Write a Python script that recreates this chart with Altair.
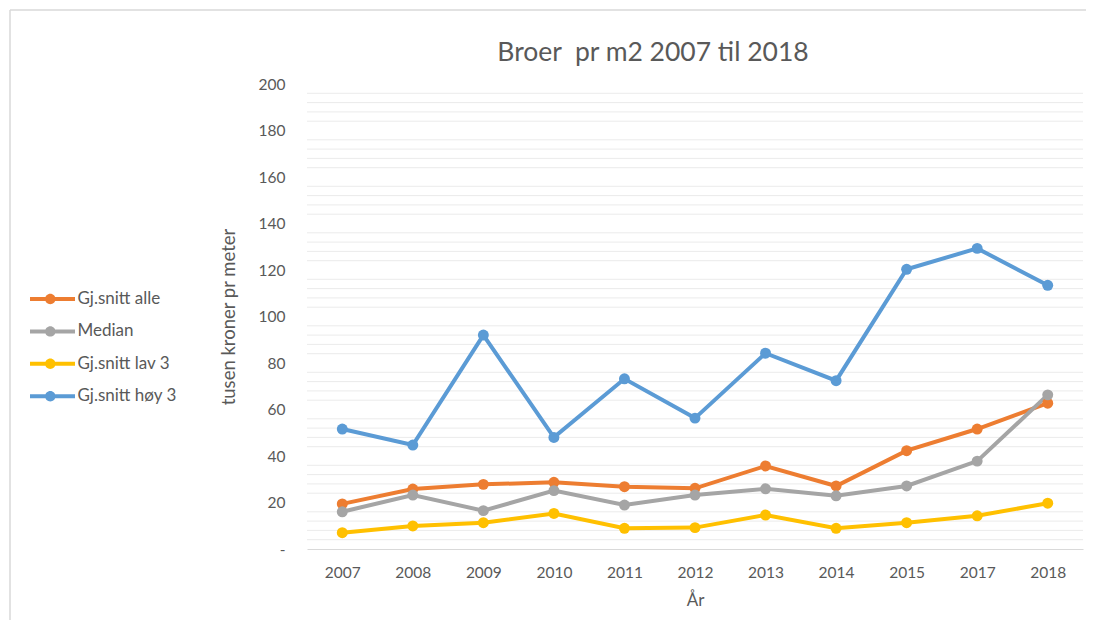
import altair as alt
import pandas as pd

years = ["2007", "2008", "2009", "2010", "2011", "2012", "2013", "2014", "2015", "2017", "2018"]
series_names = ["Gj.snitt alle", "Median", "Gj.snitt lav 3", "Gj.snitt høy 3"]
snitt_alle = [19.4, 25.8, 27.8, 28.7, 26.8, 26.1, 35.7, 27.1, 42.3, 51.6, 62.7]
median = [16.0, 23.2, 16.5, 25.1, 18.9, 23.2, 25.9, 22.9, 27.1, 37.8, 66.3]
snitt_lav3 = [7.0, 9.9, 11.3, 15.3, 8.9, 9.2, 14.6, 8.9, 11.3, 14.3, 19.7]
snitt_hoy3 = [51.6, 44.7, 92.0, 48.0, 73.2, 56.3, 84.2, 72.4, 120.3, 129.3, 113.4]
colors = ["#ED7D31", "#A5A5A5", "#FFC000", "#5B9BD5"]
y_ticks = list(range(0, 201, 20))
minor_grid = [v for v in range(4, 200, 4) if v % 20 != 0]
title_text = "Broer\u00a0 pr m2 2007 til 2018"

rows = []
for name, vals in zip(series_names, [snitt_alle, median, snitt_lav3, snitt_hoy3]):
    for yr, v in zip(years, vals):
        rows.append({"serie": name, "År": yr, "verdi": v})
df = pd.DataFrame(rows)

FONT = "Lato"
TXT = "#595959"
yscale = alt.Scale(domain=[0, 200], nice=False, zero=True)
xscale = alt.Scale(type="point", padding=0.5)
cscale = alt.Scale(domain=series_names, range=colors)

x_axis = alt.Axis(title="År", labelAngle=0, ticks=False, grid=False,
                  domainColor="#d9d9d9", domainWidth=1.2,
                  labelFont=FONT, labelFontSize=15.5, labelColor=TXT, labelPadding=16,
                  titleFont=FONT, titleFontSize=17, titleColor=TXT,
                  titleFontWeight="normal", titlePadding=12)
y_axis = alt.Axis(values=y_ticks, labelExpr="datum.value == 0 ? '-' : datum.label",
                  domain=False, ticks=False, grid=False,
                  labelFont=FONT, labelFontSize=15.5, labelColor=TXT, labelPadding=22,
                  title="tusen kroner pr meter", titleFont=FONT, titleFontSize=18.5,
                  titleColor=TXT, titleFontWeight="normal", titlePadding=20)

x_enc = alt.X("År:N", sort=years, scale=xscale, axis=x_axis)
y_enc = alt.Y("verdi:Q", scale=yscale, axis=y_axis)

legend_path = ("M-2.25,-0.2H2.25V0.2H-2.25Z "
               "M0.3,0A0.52,0.52 0 1,1 -0.74,0A0.52,0.52 0 1,1 0.3,0Z")
legend = alt.Legend(title=None, orient="none", legendX=-264.5, legendY=205,
                    symbolType=legend_path, symbolSize=400,
                    symbolStrokeWidth=0, labelOffset=15, rowPadding=14.4,
                    labelFont=FONT, labelFontSize=17, labelColor=TXT, padding=0)
c_enc = alt.Color("serie:N", sort=series_names, scale=cscale, legend=legend)

grid = alt.Chart(pd.DataFrame({"verdi": minor_grid})).mark_rule(
    color="#ebebeb", strokeWidth=1).encode(y=y_enc)

lines = alt.Chart(df).mark_line(strokeWidth=4).encode(x=x_enc, y=y_enc, color=c_enc)
points = alt.Chart(df).mark_circle(size=120, opacity=1).encode(x=x_enc, y=y_enc, color=c_enc)

title = alt.Chart(pd.DataFrame({"t": [title_text]})).mark_text(
    font=FONT, fontSize=26.5, color=TXT, align="center", baseline="middle").encode(
    text="t:N", x=alt.value(346), y=alt.value(-31))

frame_left = alt.Chart(pd.DataFrame({"a": [0]})).mark_rule(color="#d9d9d9", strokeWidth=1.5).encode(
    x=alt.value(-297), y=alt.value(-74), y2=alt.value(560))
frame_top = alt.Chart(pd.DataFrame({"a": [0]})).mark_rule(color="#d9d9d9", strokeWidth=1.5).encode(
    x=alt.value(-297), x2=alt.value(800), y=alt.value(-74))

chart = alt.layer(grid, lines, points, title, frame_left, frame_top).properties(
    width=776, height=465,
    padding={"left": 299, "top": 76, "right": 3, "bottom": 71},
    autosize=alt.AutoSizeParams(type="none"),
).configure(font=FONT).configure_view(stroke=None, strokeWidth=0)

chart.save("out.html", embed_options={"renderer": "svg", "actions": False})
